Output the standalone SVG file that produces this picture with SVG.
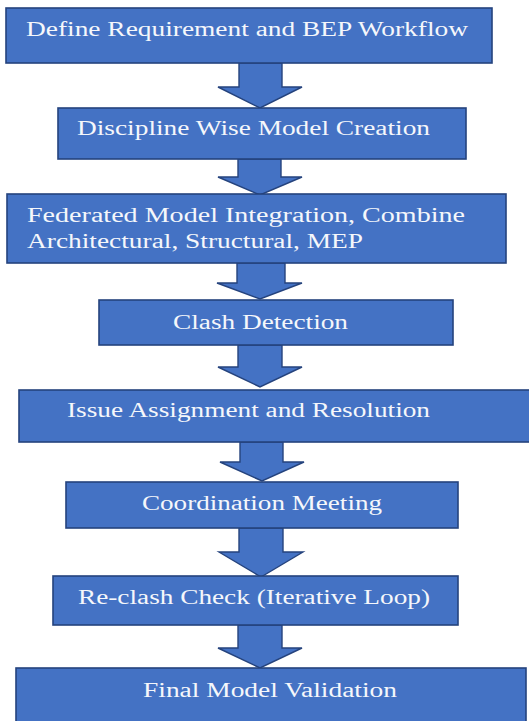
<svg xmlns="http://www.w3.org/2000/svg" width="529" height="721" viewBox="0 0 529 721">
  <style>
    .box { fill: #4472C4; stroke: #25437D; stroke-width: 1.6; }
    .arrow { fill: #4472C4; stroke: #25437D; stroke-width: 1.4; stroke-linejoin: miter; }
    .label { font-family: "Liberation Serif", "Times New Roman", serif; font-size: 20px; fill: #F5F7FB; }
  </style>
  <rect width="529" height="721" fill="#FFFFFF"/>

  <!-- block arrows between steps -->
  <g id="connectors">
    <path class="arrow" d="M239,63 V87 H218 L260,108 L302,87 H282 V63 Z"/>
    <path class="arrow" d="M238,159 V177 H218 L260,195 L302,177 H281 V159 Z"/>
    <path class="arrow" d="M237,263 V283 H217 L260,299 L302,283 H285 V263 Z"/>
    <path class="arrow" d="M238,345 V367 H218 L260,387 L302,367 H282 V345 Z"/>
    <path class="arrow" d="M240,442 V462 H220 L262,481 L304,462 H283 V442 Z"/>
    <path class="arrow" d="M239,528 V552 H219 L261,577 L303,552 H283 V528 Z"/>
    <path class="arrow" d="M238,625 V648 H218 L260,668 L302,648 H282 V625 Z"/>
  </g>

  <g id="step-define">
    <rect class="box" x="6" y="8" width="486" height="55"/>
    <text class="label" x="26" y="36" textLength="442" lengthAdjust="spacingAndGlyphs">Define Requirement and BEP Workflow</text>
  </g>

  <g id="step-discipline">
    <rect class="box" x="58" y="108" width="408" height="51"/>
    <text class="label" x="77" y="135" textLength="353" lengthAdjust="spacingAndGlyphs">Discipline Wise Model Creation</text>
  </g>

  <g id="step-federated">
    <rect class="box" x="7" y="194" width="499" height="69"/>
    <text class="label" x="27" y="222" textLength="438" lengthAdjust="spacingAndGlyphs">Federated Model Integration, Combine</text>
    <text class="label" x="27" y="248" textLength="336" lengthAdjust="spacingAndGlyphs">Architectural, Structural, MEP</text>
  </g>

  <g id="step-clash">
    <rect class="box" x="99" y="300" width="354" height="45"/>
    <text class="label" x="173" y="329" textLength="175" lengthAdjust="spacingAndGlyphs">Clash Detection</text>
  </g>

  <g id="step-issue">
    <rect class="box" x="19" y="390" width="520" height="52"/>
    <text class="label" x="67" y="417" textLength="363" lengthAdjust="spacingAndGlyphs">Issue Assignment and Resolution</text>
  </g>

  <g id="step-meeting">
    <rect class="box" x="66" y="482" width="392" height="46"/>
    <text class="label" x="142" y="510" textLength="240" lengthAdjust="spacingAndGlyphs">Coordination Meeting</text>
  </g>

  <g id="step-reclash">
    <rect class="box" x="53" y="576" width="405" height="49"/>
    <text class="label" x="78" y="604" textLength="352" lengthAdjust="spacingAndGlyphs">Re-clash Check (Iterative Loop)</text>
  </g>

  <g id="step-final">
    <rect class="box" x="16" y="668" width="510" height="60"/>
    <text class="label" x="143" y="697" textLength="254" lengthAdjust="spacingAndGlyphs">Final Model Validation</text>
  </g>
</svg>
